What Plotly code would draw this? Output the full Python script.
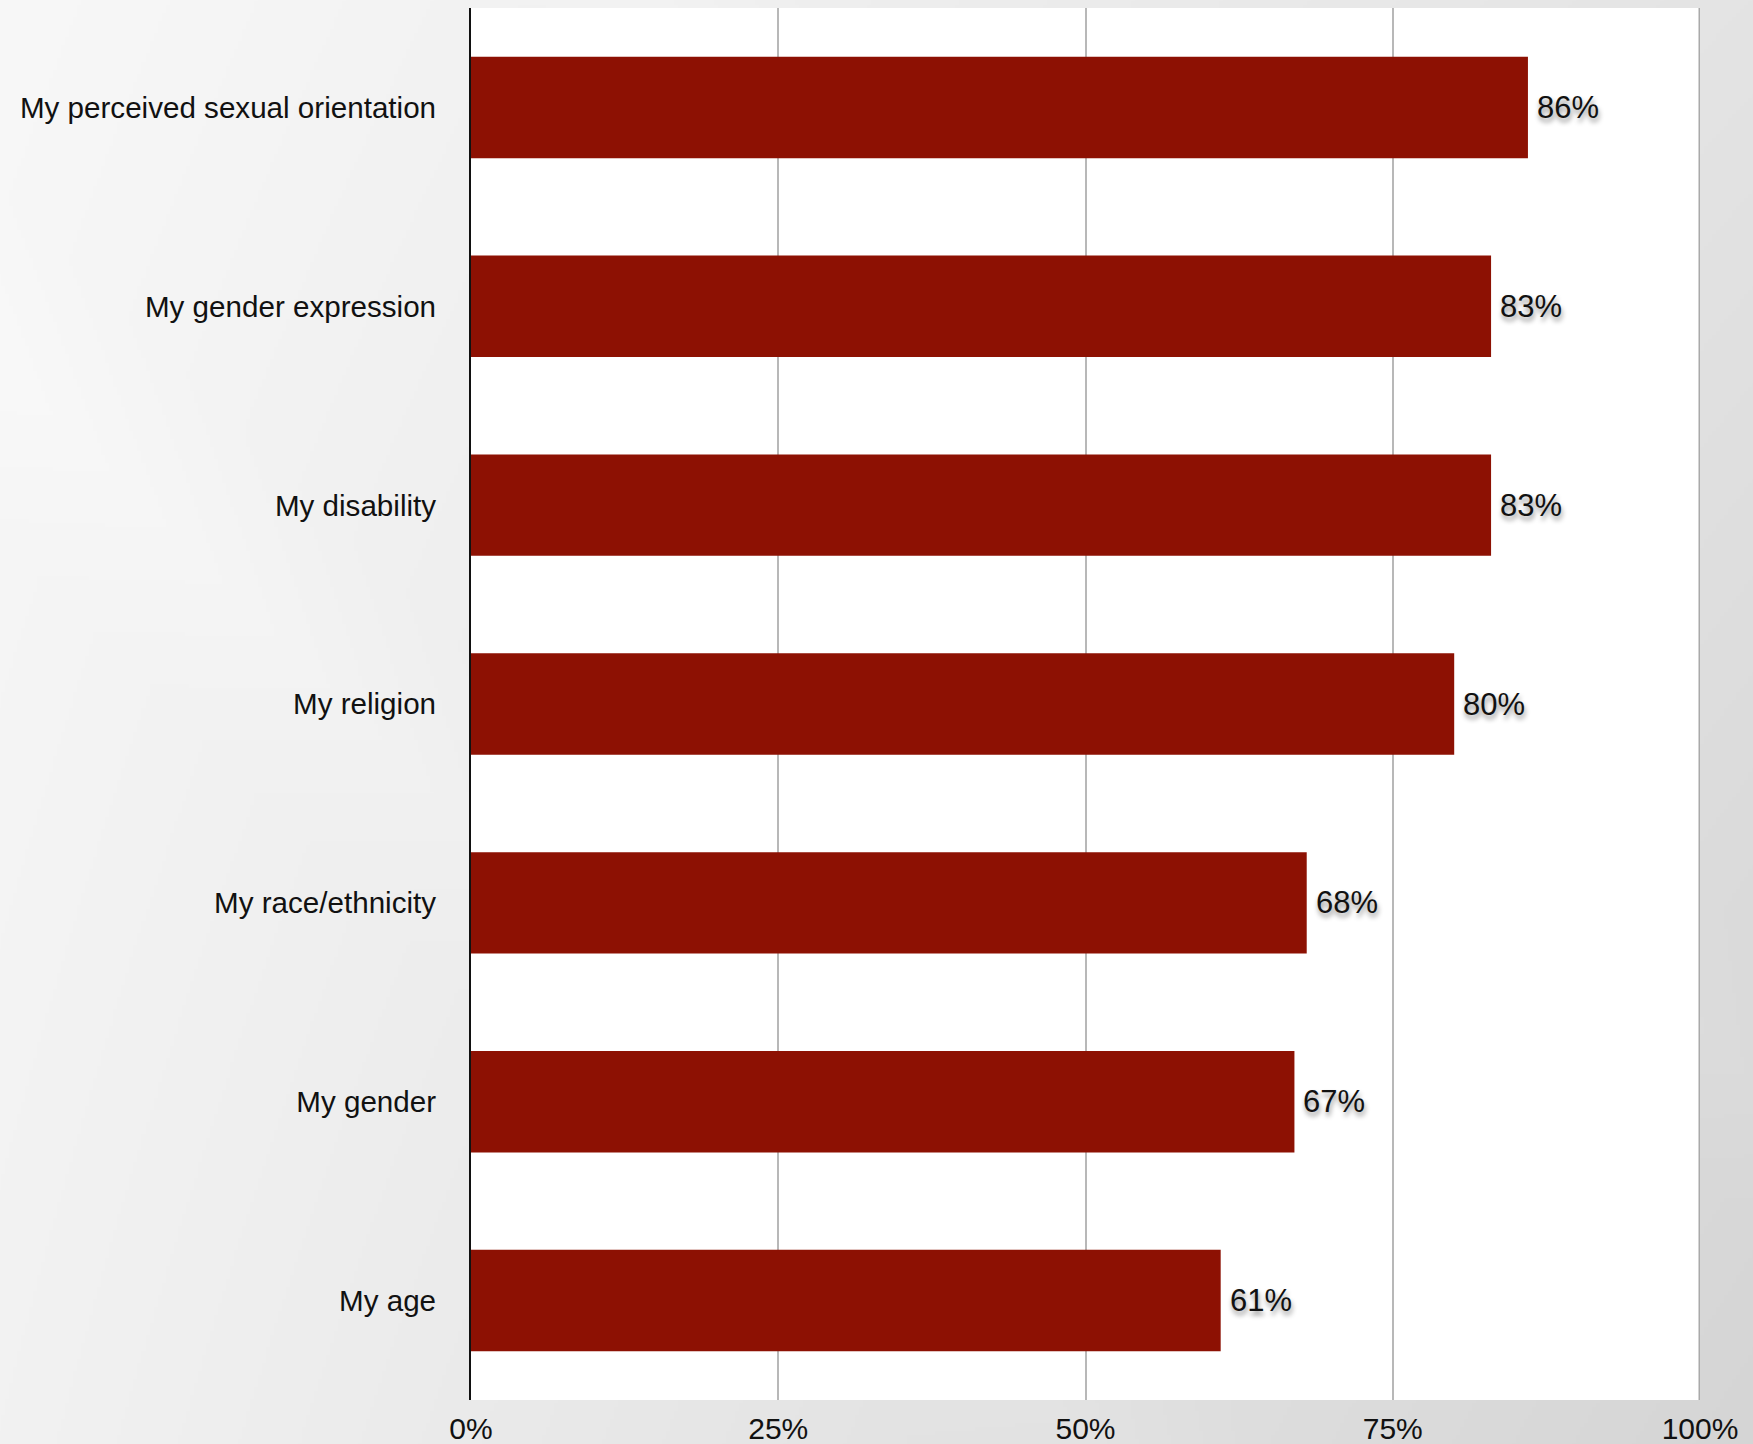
import base64
import struct
import zlib

import numpy as np
import plotly.graph_objects as go

# Survey responses, listed top to bottom
categories = [
    "My perceived sexual orientation",
    "My gender expression",
    "My disability",
    "My religion",
    "My race/ethnicity",
    "My gender",
    "My age",
]
values = [86, 83, 83, 80, 68, 67, 61]
tick_values = [0, 25, 50, 75, 100]
tick_labels = ["0%", "25%", "50%", "75%", "100%"]

W, H = 1753, 1444
ML, MR, MT, MB = 471, 53, 8, 44
BAR_COLOR = "#8d1103"
FONT = "Liberation Sans, Arial, Helvetica, sans-serif"


def png_data_uri(arr):
    """Encode a (h, w) uint8 grey array as a PNG data URI."""
    h, w = arr.shape
    raw = b"".join(b"\x00" + arr[r].tobytes() for r in range(h))

    def chunk(tag, data):
        c = struct.pack(">I", len(data)) + tag + data
        return c + struct.pack(">I", zlib.crc32(tag + data) & 0xFFFFFFFF)

    png = b"\x89PNG\r\n\x1a\n"
    png += chunk(b"IHDR", struct.pack(">IIBBBBB", w, h, 8, 0, 0, 0, 0))
    png += chunk(b"IDAT", zlib.compress(raw, 9))
    png += chunk(b"IEND", b"")
    return "data:image/png;base64," + base64.b64encode(png).decode()


# Soft grey backdrop: light at top-left, darker toward bottom-right,
# with faint diagonal sheen bands
bw, bh = 440, 362
u = np.linspace(0, 1, bw)[None, :]
w = np.linspace(0, 1, bh)[:, None]
bg = 248 - 20 * u - 6 * w - 9 * u * w
diag = u * 1.2 + (1 - w) * 1.0
bg = bg + 2.5 * np.clip(1 - np.abs(diag - 0.75) / 0.12, 0, 1)
bg = bg + 2.0 * np.clip(1 - np.abs(diag - 1.45) / 0.10, 0, 1)
bg_img = np.clip(bg, 0, 255).astype(np.uint8)

fig = go.Figure()
fig.add_trace(
    go.Bar(
        x=values,
        y=categories,
        orientation="h",
        marker=dict(color=BAR_COLOR, line=dict(width=0)),
        hoverinfo="skip",
    )
)

# Value labels beside each bar
for cat, v in zip(categories, values):
    fig.add_annotation(
        x=v,
        y=cat,
        xref="x",
        yref="y",
        text=f"{v}%",
        showarrow=False,
        xanchor="left",
        yanchor="middle",
        xshift=7,
        font=dict(
            family=FONT,
            size=31,
            color="#111111",
            shadow="1px 4px 5px rgba(0,0,0,0.45)",
        ),
    )

# White plotting panel drawn over the backdrop, beneath the gridlines
fig.add_shape(
    type="rect",
    xref="x domain",
    yref="y domain",
    x0=0,
    x1=1,
    y0=0,
    y1=1,
    fillcolor="#ffffff",
    line=dict(width=0),
    layer="below",
)

# Right-hand frame line at 100%
fig.add_shape(
    type="line",
    xref="x",
    yref="paper",
    x0=100,
    x1=100,
    y0=0,
    y1=1,
    line=dict(color="#a9a9a9", width=3),
    layer="above",
)

pw, ph = W - ML - MR, H - MT - MB
fig.add_layout_image(
    dict(
        source=png_data_uri(bg_img),
        xref="paper",
        yref="paper",
        x=-(ML + 5) / pw,
        y=1 + (MT + 5) / ph,
        sizex=(W + 10) / pw,
        sizey=(H + 10) / ph,
        xanchor="left",
        yanchor="top",
        sizing="stretch",
        layer="below",
    )
)

fig.update_layout(
    width=W,
    height=H,
    margin=dict(l=ML, r=MR, t=MT, b=MB),
    paper_bgcolor="#ececec",
    plot_bgcolor="#ffffff",
    bargap=0.49,
    showlegend=False,
    font=dict(family=FONT, size=30, color="#111111"),
    xaxis=dict(
        range=[0, 100],
        tickvals=tick_values,
        ticktext=tick_labels,
        showgrid=True,
        gridcolor="#b8b8b8",
        gridwidth=2,
        zeroline=False,
        showline=False,
        ticks="",
        ticklabelstandoff=8,
        tickfont=dict(family=FONT, size=30, color="#111111"),
        automargin=False,
        fixedrange=True,
    ),
    yaxis=dict(
        autorange="reversed",
        showgrid=False,
        zeroline=False,
        showline=True,
        linecolor="#111111",
        linewidth=2,
        ticks="",
        ticklabelstandoff=27,
        tickfont=dict(family=FONT, size=29.6, color="#111111"),
        automargin=False,
        fixedrange=True,
    ),
)

fig.write_html("out.html")
